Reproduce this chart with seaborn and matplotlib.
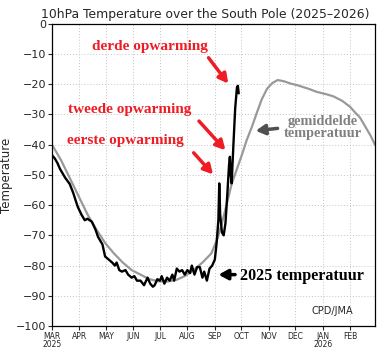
import pandas as pd
import matplotlib
matplotlib.use("Agg")
import matplotlib.pyplot as plt
import seaborn as sns

# 2025 daily temperature (days since 1 March 2025)
obs_days = [0, 3, 6, 9, 13, 15, 20, 24, 29, 33, 37, 40, 45, 49, 52, 57, 60, 64, 68, 71,
            73, 76, 79, 83, 86, 90, 93, 96, 100, 104, 108, 111, 114, 116, 119, 122, 124,
            127, 130, 133, 136, 138, 141, 144, 147, 150, 153, 156, 158, 161, 164, 167,
            170, 172, 175, 178, 181, 184, 186, 188, 189, 190, 192, 194, 196, 198, 200,
            201, 202, 203, 205, 207, 209, 210, 211]
obs_temp = [-43.5, -44.5, -46, -48, -50, -51, -53, -56, -60.5, -63, -65, -64.5, -65.5,
            -68, -70.5, -73, -77, -78, -79, -80, -79, -81.5, -82, -81.5, -83, -84, -83.5,
            -85, -85, -86.5, -84, -86, -87, -86.5, -84.5, -85, -83.5, -86, -84, -85, -83,
            -85, -81, -82, -81.5, -83, -81.5, -82.5, -80, -83, -80.5, -80.5, -84, -82,
            -85, -81, -80, -78, -72.6, -65, -52.8, -63, -69, -70, -66, -57, -47, -44,
            -50, -52.8, -40, -28, -21, -20.5, -23]

# climatological mean
clim_days = [0, 10, 20, 30, 40, 50, 60, 70, 80, 90, 100, 110, 120, 130, 140, 150, 160,
             170, 180, 187, 192, 198, 203, 209, 215, 220, 226, 232, 237, 243, 249, 255,
             262, 270, 277, 290, 299, 310, 318, 328, 337, 343, 348, 355, 360, 365]
clim_temp = [-40, -45, -51, -57, -63, -68, -72.5, -76, -79, -81.5, -83, -84.5, -85.2,
             -85.3, -84.8, -83.5, -81.5, -79, -76, -71, -66, -59, -53, -48, -43, -38.5,
             -34, -29, -25, -21.5, -19.6, -18.6, -19, -19.8, -20.3, -21.5, -22.5, -23.3,
             -24, -25.5, -27.5, -29.5, -31, -34.5, -37, -40]

month_labels = ["MAR\n2025", "APR", "MAY", "JUN", "JUL", "AUG", "SEP", "OCT", "NOV",
                "DEC", "JAN\n2026", "FEB"]

start = pd.Timestamp("2025-03-01")
obs = pd.DataFrame({"date": start + pd.to_timedelta(obs_days, unit="D"), "temp": obs_temp})
clim = pd.DataFrame({"date": start + pd.to_timedelta(clim_days, unit="D"), "temp": clim_temp})

sns.set_style("white")
plt.rcParams["font.family"] = ["DejaVu Sans"]

fig = plt.figure(figsize=(3.92, 3.53), dpi=100)
ax = fig.add_axes([0.1327, 0.0765, 0.8239, 0.856])

sns.lineplot(data=clim, x="date", y="temp", color="#999999", linewidth=1.6, ax=ax)
sns.lineplot(data=obs, x="date", y="temp", color="black", linewidth=1.7, ax=ax)

ticks = pd.date_range("2025-03-01", periods=12, freq="MS")
ax.set_xticks(ticks)
ax.set_xticklabels(month_labels, fontsize=5.5, linespacing=0.9)
ax.set_xlim(start, pd.Timestamp("2026-03-01"))
ax.set_ylim(-100, 0)
ax.set_yticks(range(-100, 1, 10))
ax.tick_params(axis="y", labelsize=8, length=3, width=0.8, left=True, pad=1)
ax.tick_params(axis="x", length=3, width=0.8, bottom=True, pad=1)
ax.grid(True, linestyle=(0, (1, 2)), color="#c4c4c4", linewidth=0.7)
for s in ax.spines.values():
    s.set_color("black")
    s.set_linewidth(0.9)
ax.set_xlabel("")
ax.set_ylabel("Temperature", fontsize=8.5, labelpad=2)
ax.set_title("10hPa Temperature over the South Pole (2025\u20132026)", fontsize=8.9,
             pad=4, x=0.475)

def d(n):
    return start + pd.Timedelta(days=n)

red = "#ee1c25"
serif = ["Liberation Serif", "DejaVu Serif"]
kw = dict(fontsize=11, fontweight="bold", family=serif)

ax.text(d(45), -7.5, "derde opwarming", color=red, ha="left", va="center", **kw)
ax.text(d(18), -28.5, "tweede opwarming", color=red, ha="left", va="center", **kw)
ax.text(d(17), -38.5, "eerste opwarming", color=red, ha="left", va="center", **kw)
arrow = dict(arrowstyle="-|>,head_length=0.55,head_width=0.3", color=red, lw=2.5)
ax.annotate("", xy=(d(201), -20.5), xytext=(d(175), -10.5), arrowprops=arrow)
ax.annotate("", xy=(d(198), -42.5), xytext=(d(164), -31.5), arrowprops=arrow)
ax.annotate("", xy=(d(184), -50.5), xytext=(d(158), -42), arrowprops=arrow)

ax.text(d(306), -34.3, "gemiddelde\ntemperatuur", color="#808080", ha="center",
        va="center", linespacing=0.95, **dict(kw, fontsize=10.3))
ax.annotate("", xy=(d(227), -35.5), xytext=(d(258), -34.5),
            arrowprops=dict(arrowstyle="-|>,head_length=0.55,head_width=0.3",
                            color="#505050", lw=2.5))

ax.text(d(212), -83.3, "2025 temperatuur", color="black", ha="left", va="center",
        **dict(kw, fontsize=11.6))
ax.annotate("", xy=(d(185), -83), xytext=(d(210), -83),
            arrowprops=dict(arrowstyle="-|>,head_length=0.55,head_width=0.3",
                            color="black", lw=2.5))

ax.text(d(340), -95, "CPD/JMA", fontsize=7, ha="right", va="center")

fig.savefig("out.png", dpi=100)
